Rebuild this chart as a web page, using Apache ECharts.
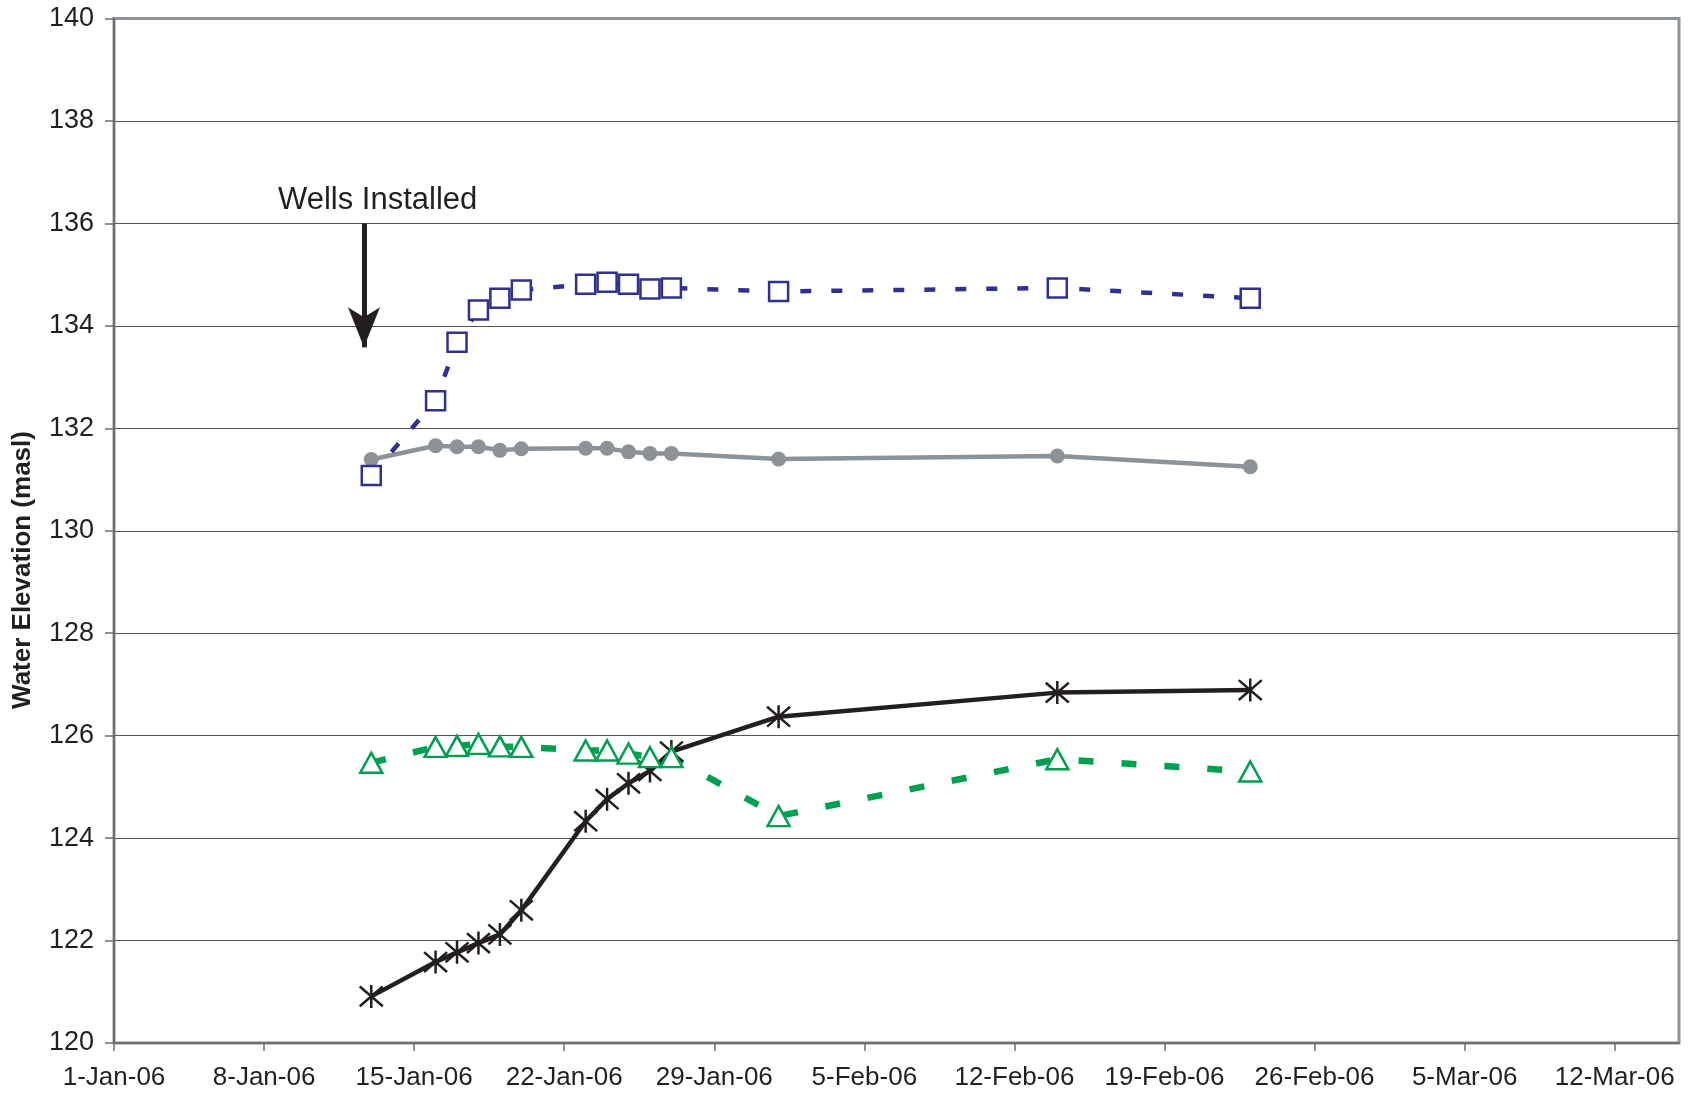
<!DOCTYPE html>
<html>
<head>
<meta charset="utf-8">
<title>Water Elevation</title>
<script src="https://cdn.jsdelivr.net/npm/echarts@6/dist/echarts.min.js"></script>
<style>
  html, body { margin: 0; padding: 0; background: #fff; }
  #main { width: 1688px; height: 1098px; }
</style>
</head>
<body>
<div id="main"></div>
<script>
// sampling dates
const dates = ['13-Jan-06', '16-Jan-06', '17-Jan-06', '18-Jan-06', '19-Jan-06', '20-Jan-06',
  '23-Jan-06', '24-Jan-06', '25-Jan-06', '26-Jan-06', '27-Jan-06', '1-Feb-06', '14-Feb-06', '23-Feb-06']

// water elevations (masl)
const grayWell = [131.39, 131.66, 131.64, 131.64, 131.57, 131.60, 131.61, 131.61, 131.54, 131.51, 131.51, 131.40, 131.46, 131.25]
const blackWell = [120.91, 121.58, 121.77, 121.95, 122.12, 122.59, 124.33, 124.76, 125.07, 125.31, 125.69, 126.37, 126.84, 126.89]
const greenWell = [125.47, 125.78, 125.80, 125.84, 125.79, 125.78, 125.71, 125.71, 125.65, 125.58, 125.58, 124.43, 125.54, 125.30]
const blueWell = [131.08, 132.54, 133.68, 134.31, 134.54, 134.70, 134.81, 134.85, 134.81, 134.72, 134.74, 134.67, 134.74, 134.54]

// x axis tick labels
const xTicks = ['1-Jan-06', '8-Jan-06', '15-Jan-06', '22-Jan-06', '29-Jan-06', '5-Feb-06',
  '12-Feb-06', '19-Feb-06', '26-Feb-06', '5-Mar-06', '12-Mar-06']
const xEnd = '15-Mar-06'

const MONTHS = ['Jan', 'Feb', 'Mar', 'Apr', 'May', 'Jun', 'Jul', 'Aug', 'Sep', 'Oct', 'Nov', 'Dec']
const origin = Date.UTC(2006, 0, 1)

// "13-Jan-06" -> days since 1-Jan-06
function toDay(s) {
  const p = s.split('-')
  const t = Date.UTC(2000 + Number(p[2]), MONTHS.indexOf(p[1]), Number(p[0]))
  return Math.round((t - origin) / 86400000)
}
function dayLabel(d) {
  const dt = new Date(origin + d * 86400000)
  return dt.getUTCDate() + '-' + MONTHS[dt.getUTCMonth()] + '-' + String(dt.getUTCFullYear()).slice(2)
}

function pairs(vals) {
  return dates.map((d, i) => [toDay(d), vals[i]])
}

const tickDays = xTicks.map(toDay)
const font = '"Liberation Sans", Arial, sans-serif'
const textColor = '#231F20'

// arrow + note position (day, elevation)
const arrowDay = 11.66
const arrowFrom = 136.0
const arrowTo = 133.58
const noteDay = 12.3
const noteValue = 136.45

var myChart = echarts.init(document.getElementById('main'))

const option = {
  animation: false,
  grid: {
    left: 114, right: 9, top: 18.5, bottom: 55,
    show: true,
    borderColor: '#8E9398',
    borderWidth: 3
  },
  xAxis: {
    type: 'value',
    min: 0,
    max: toDay(xEnd),
    interval: 7,
    axisLine: { show: true, onZero: false, lineStyle: { color: '#6D6E71', width: 2 } },
    axisTick: { show: true, length: 8, lineStyle: { color: '#6D6E71', width: 1.5 }, customValues: tickDays },
    axisLabel: {
      customValues: tickDays,
      formatter: v => dayLabel(v),
      color: textColor,
      fontFamily: font,
      fontSize: 26,
      margin: 22
    },
    splitLine: { show: false }
  },
  yAxis: {
    type: 'value',
    min: 120,
    max: 140,
    interval: 2,
    axisLine: { show: true, lineStyle: { color: '#6D6E71', width: 2 } },
    axisTick: { show: true, length: 9, lineStyle: { color: '#6D6E71', width: 1.5 } },
    axisLabel: {
      color: textColor,
      fontFamily: font,
      fontSize: 27,
      margin: 20
    },
    splitLine: { show: true, showMaxLine: false, showMinLine: false, lineStyle: { color: '#555', width: 1.2 } }
  },
  series: [
    {
      name: 'gray',
      type: 'line',
      data: pairs(grayWell),
      symbol: 'circle',
      symbolSize: 15,
      itemStyle: { color: '#8C9398' },
      lineStyle: { color: '#8C9398', width: 4.5 }
    },
    {
      name: 'black',
      type: 'line',
      data: pairs(blackWell),
      symbol: 'path://M0,0L20,19M20,0L0,19M10,-1.5L10,20.5',
      symbolSize: 23,
      itemStyle: { color: 'rgba(0,0,0,0)', borderColor: textColor, borderWidth: 2.5 },
      lineStyle: { color: textColor, width: 4.5 },
      markLine: {
        silent: true,
        symbol: ['none', 'arrow'],
        symbolSize: [24, 40],
        label: { show: false },
        lineStyle: { color: textColor, width: 5, type: 'solid' },
        data: [[{ coord: [arrowDay, arrowFrom] }, { coord: [arrowDay, arrowTo] }]]
      }
    },
    {
      name: 'green',
      type: 'line',
      data: pairs(greenWell),
      symbol: 'triangle',
      symbolSize: [22, 20],
      itemStyle: { color: '#fff', borderColor: '#00A04F', borderWidth: 2.5 },
      lineStyle: { color: '#00A04F', width: 6.5, type: [15, 28] }
    },
    {
      name: 'blue',
      type: 'line',
      data: pairs(blueWell),
      symbol: 'rect',
      symbolSize: 19,
      itemStyle: { color: '#fff', borderColor: '#2E3192', borderWidth: 2.5 },
      lineStyle: { color: '#2E3192', width: 4.5, type: [11, 20] }
    }
  ]
}

myChart.setOption(option)

// annotation text and y axis title
const notePos = myChart.convertToPixel({ gridIndex: 0 }, [noteDay, noteValue])
myChart.setOption({
  graphic: [
    {
      type: 'text',
      x: notePos[0],
      y: notePos[1],
      style: {
        text: 'Wells Installed',
        font: '31px ' + font,
        fill: textColor,
        textAlign: 'center',
        textVerticalAlign: 'middle'
      }
    },
    {
      type: 'text',
      x: 23,
      y: 570,
      rotation: Math.PI / 2,
      style: {
        text: 'Water Elevation (masl)',
        font: 'bold 26px ' + font,
        fill: textColor,
        textAlign: 'center',
        textVerticalAlign: 'middle'
      }
    }
  ]
})
</script>
</body>
</html>
